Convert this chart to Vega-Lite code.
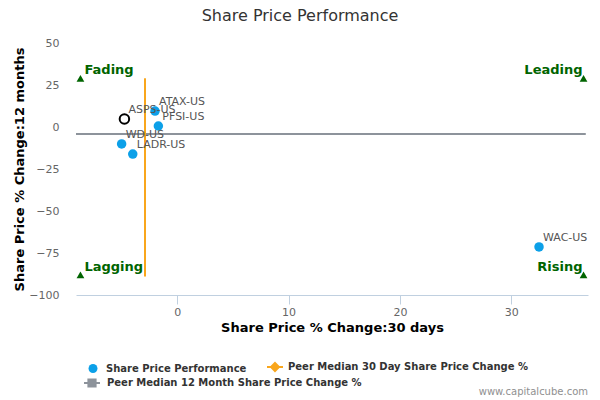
{
  "$schema": "https://vega.github.io/schema/vega-lite/v6.json",
  "autosize": {"type": "none"},
  "padding": {"left": 76, "top": 43, "right": 12, "bottom": 105},
  "width": 512,
  "height": 252,
  "background": "white",
  "title": {
    "text": "Share Price Performance",
    "font": "DejaVu Sans",
    "fontSize": 16,
    "fontWeight": "normal",
    "color": "#333333",
    "anchor": "middle",
    "frame": "group",
    "dx": -32,
    "offset": 13
  },
  "config": {
    "view": {"stroke": null},
    "font": "DejaVu Sans",
    "legend": {
      "title": null,
      "orient": "none",
      "legendX": 12,
      "direction": "horizontal",
      "columnPadding": 16,
      "labelOffset": 8,
      "labelFont": "DejaVu Sans",
      "labelFontSize": 10,
      "labelFontWeight": "bold",
      "labelColor": "#333333",
      "labelLimit": 400,
      "symbolSize": 100
    }
  },
  "datasets": {
    "stocks": [
      {"ticker": "ATAX-US", "x": -2.0, "y": 9.5, "series": "Share Price Performance"},
      {"ticker": "PFSI-US", "x": -1.7, "y": 0.6, "series": "Share Price Performance"},
      {"ticker": "WD-US", "x": -5.0, "y": -10.1, "series": "Share Price Performance"},
      {"ticker": "LADR-US", "x": -4.0, "y": -16.1, "series": "Share Price Performance"},
      {"ticker": "WAC-US", "x": 32.5, "y": -71.4, "series": "Share Price Performance"}
    ],
    "focus": [
      {"ticker": "ASPS-US", "x": -4.75, "y": 4.8}
    ],
    "medianX": [
      {"series": "Peer Median 30 Day Share Price Change %", "x": -2.9, "y": 29, "y2": -89}
    ],
    "medianY": [
      {"series": "Peer Median 12 Month Share Price Change %", "line": "Peer Median 12 Month Share Price Change %", "x": -9.1, "x2": 36.7, "y": -4.2}
    ],
    "quadrants": [
      {"label": "Fading", "x": -8.7, "y": 29, "side": "left"},
      {"label": "Leading", "x": 36.5, "y": 29, "side": "right"},
      {"label": "Lagging", "x": -8.7, "y": -88, "side": "left"},
      {"label": "Rising", "x": 36.5, "y": -88, "side": "right"}
    ],
    "credit": [
      {"note": "www.capitalcube.com", "x": 36.9, "y": -157.5}
    ]
  },
  "encoding": {
    "x": {
      "field": "x",
      "type": "quantitative",
      "title": "Share Price % Change:30 days",
      "scale": {"domain": [-9.1, 36.9], "nice": false, "zero": false},
      "axis": {
        "values": [0, 10, 20, 30],
        "grid": false,
        "domainColor": "#c0d0e0",
        "tickColor": "#c0d0e0",
        "tickSize": 9,
        "labelPadding": 2,
        "labelFont": "DejaVu Sans",
        "labelFontSize": 11,
        "labelColor": "#666666",
        "titleFont": "DejaVu Sans",
        "titleFontSize": 13,
        "titleFontWeight": "bold",
        "titleColor": "#000000",
        "titlePadding": 4
      }
    },
    "y": {
      "field": "y",
      "type": "quantitative",
      "title": "Share Price % Change:12 months",
      "scale": {"domain": [-100, 50], "nice": false, "zero": false},
      "axis": {
        "values": [-100, -75, -50, -25, 0, 25, 50],
        "grid": false,
        "domain": false,
        "ticks": false,
        "labelPadding": 17,
        "labelFont": "DejaVu Sans",
        "labelFontSize": 11,
        "labelColor": "#666666",
        "titleFont": "DejaVu Sans",
        "titleFontSize": 13,
        "titleFontWeight": "bold",
        "titleColor": "#000000",
        "titlePadding": 2
      }
    },
    "color": {
      "field": "series",
      "type": "nominal",
      "scale": {
        "domain": ["Share Price Performance", "Peer Median 30 Day Share Price Change %", "Peer Median 12 Month Share Price Change %"],
        "range": ["#0ca0e8", "#f9a61c", "#8d939b"]
      },
      "legend": {
        "values": ["Share Price Performance", "Peer Median 30 Day Share Price Change %"],
        "legendY": 319,
        "encode": {
          "symbols": {
            "update": {
              "shape": {"signal": "datum.value === 'Share Price Performance' ? 'circle' : 'M-1,0L1,0M0,-0.5L0.5,0L0,0.5L-0.5,0Z'"},
              "size": {"signal": "datum.value === 'Share Price Performance' ? 80 : 256"},
              "fill": {"signal": "scale('color', datum.value)"},
              "stroke": {"signal": "scale('color', datum.value)"},
              "strokeWidth": {"signal": "datum.value === 'Share Price Performance' ? 0 : 2"},
              "opacity": {"value": 1}
            }
          }
        }
      }
    }
  },
  "layer": [
    {
      "data": {"name": "medianY"},
      "mark": {"type": "rule", "strokeWidth": 2},
      "encoding": {
        "x2": {"field": "x2"},
        "strokeDash": {
          "field": "line",
          "type": "nominal",
          "scale": {"domain": ["Peer Median 12 Month Share Price Change %"], "range": [[1, 0]]},
          "legend": {
            "legendX": 7,
            "legendY": 331,
            "labelOffset": 6,
            "encode": {
              "symbols": {
                "update": {
                  "shape": {"value": "M-1,0L1,0M-0.45,-0.45L0.45,-0.45L0.45,0.45L-0.45,0.45Z"},
                  "size": {"value": 256},
                  "fill": {"value": "#8d939b"},
                  "stroke": {"value": "#8d939b"},
                  "strokeWidth": {"value": 2},
                  "strokeDash": {"value": [1, 0]},
                  "opacity": {"value": 1}
                }
              }
            }
          }
        }
      }
    },
    {
      "data": {"name": "medianX"},
      "mark": {"type": "rule", "strokeWidth": 2},
      "encoding": {"y2": {"field": "y2"}}
    },
    {
      "data": {"name": "stocks"},
      "mark": {"type": "point", "shape": "circle", "filled": true, "size": 90, "opacity": 1}
    },
    {
      "data": {"name": "focus"},
      "mark": {"type": "point", "shape": "circle", "filled": false, "size": 90, "strokeWidth": 2, "opacity": 1},
      "encoding": {"color": {"value": "#000000"}}
    },
    {
      "data": {"name": "stocks"},
      "mark": {"type": "text", "align": "left", "baseline": "middle", "dx": 4, "dy": -9, "fontSize": 11, "font": "DejaVu Sans"},
      "encoding": {"text": {"field": "ticker"}, "color": {"value": "#555555"}}
    },
    {
      "data": {"name": "focus"},
      "mark": {"type": "text", "align": "left", "baseline": "middle", "dx": 4, "dy": -9, "fontSize": 11, "font": "DejaVu Sans"},
      "encoding": {"text": {"field": "ticker"}, "color": {"value": "#555555"}}
    },
    {
      "data": {"name": "quadrants"},
      "mark": {"type": "point", "shape": "triangle-up", "filled": true, "size": 60, "opacity": 1},
      "encoding": {"color": {"value": "#006400"}}
    },
    {
      "data": {"name": "quadrants"},
      "transform": [{"filter": "datum.side === 'left'"}],
      "mark": {"type": "text", "align": "left", "baseline": "middle", "dx": 4, "dy": -8, "fontSize": 13, "fontWeight": "bold", "font": "DejaVu Sans"},
      "encoding": {"text": {"field": "label"}, "color": {"value": "#006400"}}
    },
    {
      "data": {"name": "quadrants"},
      "transform": [{"filter": "datum.side === 'right'"}],
      "mark": {"type": "text", "align": "right", "baseline": "middle", "dx": -1, "dy": -8, "fontSize": 13, "fontWeight": "bold", "font": "DejaVu Sans"},
      "encoding": {"text": {"field": "label"}, "color": {"value": "#006400"}}
    },
    {
      "data": {"name": "credit"},
      "mark": {"type": "text", "align": "right", "baseline": "middle", "fontSize": 10, "font": "DejaVu Sans", "clip": false},
      "encoding": {"text": {"field": "note"}, "color": {"value": "#909090"}}
    }
  ]
}
